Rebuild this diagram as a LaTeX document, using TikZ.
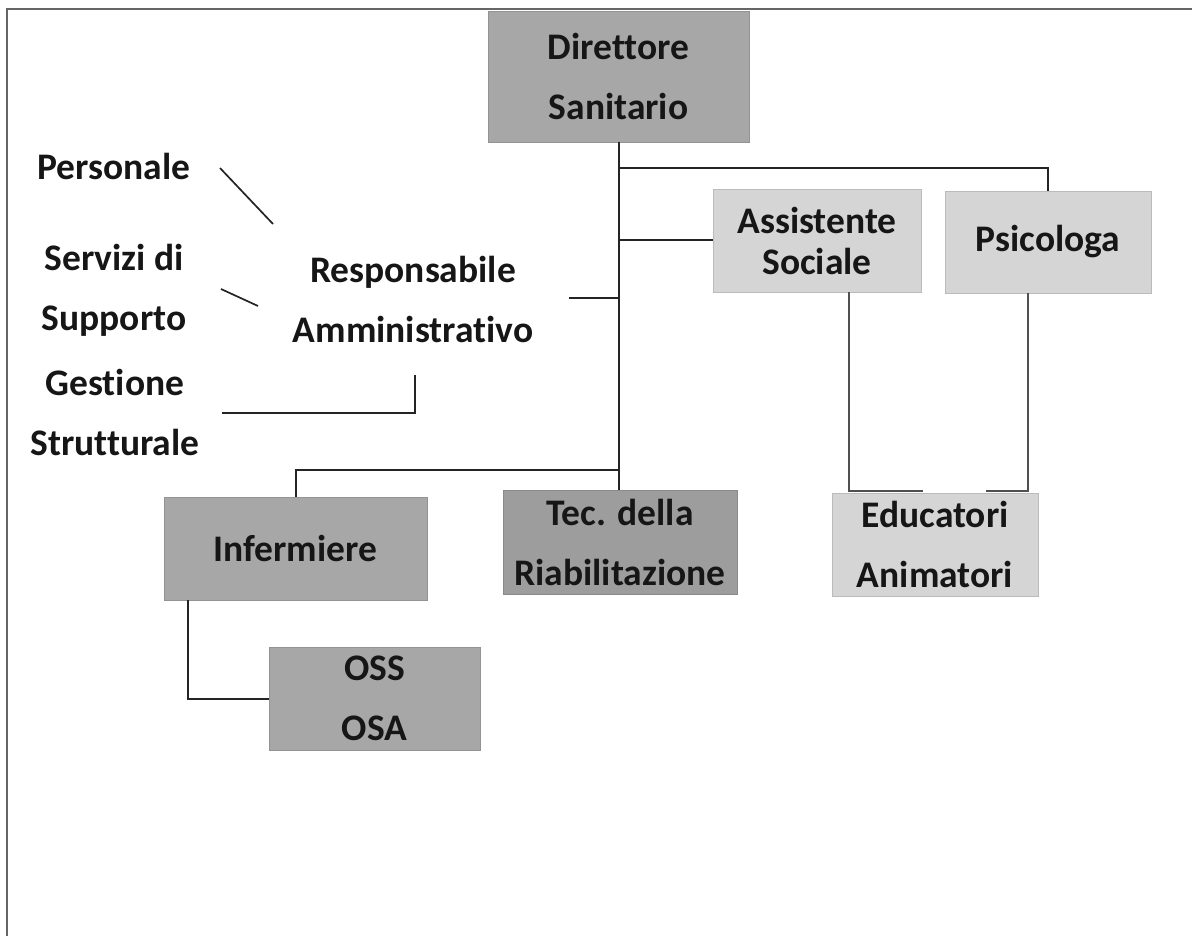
\documentclass[tikz,border=0pt]{standalone}
\usepackage{fontspec}
\setmainfont{Carlito}[Ligatures=NoCommon]
\definecolor{boxdark}{HTML}{A7A7A7}
\definecolor{boxtec}{HTML}{9D9D9D}
\definecolor{boxlight}{HTML}{D5D5D5}
\definecolor{ink}{HTML}{161616}
\definecolor{wire}{HTML}{242424}
\begin{document}
\begin{tikzpicture}[x=1pt,y=-1pt,
  lbl/.style={font=\fontsize{37.5}{60}\selectfont\bfseries, text=ink, align=center, inner sep=0pt},
  tight/.style={font=\fontsize{37.5}{41}\selectfont\bfseries},
  darkbox/.style={lbl, fill=boxdark, draw=boxdark!88!black, line width=0.8pt},
  tecbox/.style={lbl, fill=boxtec, draw=boxtec!88!black, line width=0.8pt},
  lightbox/.style={lbl, fill=boxlight, draw=boxlight!88!black, line width=0.8pt},
  wirel/.style={draw=wire, line width=2pt},
  thinwire/.style={draw=wire!80!white, line width=1.4pt},
  frameline/.style={draw=black!60, line width=1.4pt}]
\useasboundingbox (0,0) rectangle (1194,936);
% frame
\coordinate (fTL) at (7,9);
\coordinate (fTR) at (1192,9);
\coordinate (fBL) at (7,936);
\draw[frameline] (fBL) -- (fTL) -- (fTR);

% boxes
\node[darkbox, minimum width=261pt, minimum height=131pt] (dir) at (618.5,76.5) {Direttore\\Sanitario};
\node[lightbox, tight, minimum width=208pt, minimum height=103pt] (ass) at (817,240.5) {Assistente\\Sociale};
\node[lightbox, minimum width=206pt, minimum height=102pt] (psi) at (1048,242) {Psicologa};
\node[darkbox, minimum width=263pt, minimum height=103pt] (inf) at (295.5,548.5) {Infermiere};
\node[tecbox, minimum width=234pt, minimum height=104pt] (tec) at (620,542) {Tec. della\\Riabilitazione};
\node[lightbox, minimum width=206pt, minimum height=103pt] (edu) at (935,544.5) {Educatori\\Animatori};
\node[darkbox, minimum width=211pt, minimum height=103pt] (oss) at (374.5,698.5) {OSS\\OSA};

% free text
\node[lbl] (resp) at (413,299) {Responsabile\\Amministrativo};
\node[lbl] (pers) at (114,166) {Personale};
\node[lbl] (serv) at (114,290) {Servizi di\\Supporto};
\node[lbl] (gest) at (115,412) {Gestione\\Strutturale};

% main trunk
\coordinate (trunkTop) at (619,142);
\coordinate (jPsi) at (619,168);
\coordinate (jAss) at (619,240);
\coordinate (jResp) at (619,298);
\coordinate (jLow) at (619,470);
\draw[wirel] (trunkTop) -- (619,490);
\draw[wirel] (jPsi) -- (psi.north |- jPsi) -- (psi.north);
\draw[wirel] (jAss) -- (ass.west |- jAss);
\coordinate (respEnd) at (569,298);
\draw[wirel] (respEnd) -- (jResp);
\draw[wirel] (jLow) -- (inf.north |- jLow) -- (inf.north);

% infermiere -> OSS
\coordinate (infOut) at (188,600);
\draw[wirel] (infOut) -- (infOut |- oss.west) -- (oss.west);

% social / psych -> educatori
\coordinate (assOut) at (849,292);
\coordinate (assEnd) at (923,491);
\coordinate (psiOut) at (1028,293);
\coordinate (psiEnd) at (986,491);
\draw[thinwire] (assOut) -- (assOut |- assEnd) -- (assEnd);
\draw[thinwire] (psiOut) -- (psiOut |- psiEnd) -- (psiEnd);

% side connectors near Responsabile
\coordinate (persA) at (220,168);
\coordinate (persB) at (273,224);
\draw[wirel, line width=1.7pt] (persA) -- (persB);
\coordinate (servA) at (221,289);
\coordinate (servB) at (258,306);
\draw[wirel, line width=1.7pt] (servA) -- (servB);
\coordinate (gestA) at (222,413);
\coordinate (gestB) at (415,413);
\coordinate (gestC) at (415,375);
\draw[wirel, line width=1.7pt] (gestA) -- (gestB) -- (gestC);
\end{tikzpicture}
\end{document}
